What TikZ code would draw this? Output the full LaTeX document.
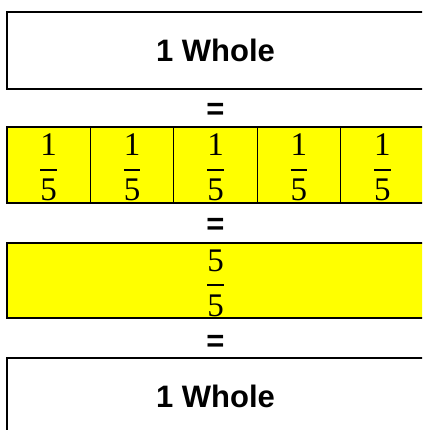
\RequirePackage{fix-cm}
\documentclass[tikz,border=0pt]{standalone}
\usepackage{amsmath}
\usepackage{fontspec}
\setmainfont{Liberation Serif}
\newfontfamily\wholefont{Liberation Sans}
\usetikzlibrary{positioning}
\definecolor{partfill}{RGB}{255,255,0}
\newcommand{\fracpart}[2]{$\genfrac{}{}{2pt}{0}{\mbox{#1}}{\mbox{#2}}$}

\begin{document}
\begin{tikzpicture}[x=1pt,y=-1pt,
    whole/.style={draw,line width=1.4pt,minimum width=417pt,
      minimum height=77pt,inner sep=0pt,
      font=\wholefont\bfseries\fontsize{31}{36}\selectfont},
    fifth/.style={draw,line width=1.3pt,fill=partfill,
      minimum height=76pt,inner sep=0pt,text depth=18pt,
      font=\fontsize{33}{40}\selectfont},
    eqsign/.style={anchor=base,inner sep=0pt,
      font=\wholefont\bfseries\fontsize{31}{36}\selectfont}
  ]
  \clip (0,0) rectangle (422,430);

  \node[whole](top) at (215.5,50.5){1 Whole};
  \node[eqsign](eq1) at (215.5,119.5){=};

  % five fifths
  \foreach \i in {1,...,5}
    \node[fifth,minimum width=83.4pt](fifth\i) at ({7+83.4*(\i-0.5)},165)
      {\fracpart{1}{5}};

  \node[eqsign](eq2) at (215.5,234.5){=};
  \node[fifth,minimum width=417pt,minimum height=75pt](sum) at (215.5,280.5)
    {\fracpart{5}{5}};
  \node[eqsign](eq3) at (215.5,351.5){=};

  \node[whole](bottom) at (215.5,396.5){1 Whole};
\end{tikzpicture}
\end{document}
